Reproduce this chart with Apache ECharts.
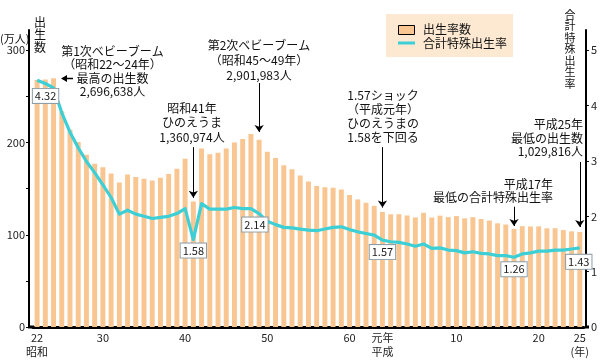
<!DOCTYPE html>
<html><head><meta charset="utf-8">
<script src="https://cdn.jsdelivr.net/npm/echarts@6/dist/echarts.min.js"></script>
<style>html,body{margin:0;padding:0;background:#fff}#c{width:600px;height:360px}</style>
</head><body><div id="c"></div>
<script>
// Years: Showa 22 (1947) ... Showa 63, Heisei 元年 (1989) ... Heisei 25 (2013)
const categories = [];
for (let y = 22; y <= 63; y++) categories.push(String(y));
categories.push('元年');
for (let y = 2; y <= 25; y++) categories.push(String(y));

// Births (万人)
const births = [
  267.9, 268.2, 269.7, 233.8, 213.8, 200.5, 186.8, 177.0, 173.1, 166.5,
  156.7, 165.3, 162.6, 160.6, 158.9, 161.9, 166.0, 171.7, 182.4, 136.1,
  193.6, 187.2, 189.0, 193.4, 200.1, 203.9, 209.2, 203.0, 190.1, 183.3,
  175.5, 170.9, 164.3, 157.7, 152.9, 151.5, 150.9, 149.0, 143.2, 138.3,
  134.7, 131.4, 124.7, 122.2, 122.3, 120.9, 118.8, 123.8, 118.7, 120.7,
  119.2, 120.3, 117.8, 119.1, 117.1, 115.4, 112.4, 111.1, 106.3, 109.3,
  109.0, 109.1, 107.0, 107.1, 105.1, 103.7, 103.0
];

// Total fertility rate
const tfr = [
  4.46, 4.40, 4.32, 3.87, 3.52, 3.24, 2.99, 2.79, 2.57, 2.34,
  2.04, 2.11, 2.04, 2.00, 1.96, 1.98, 2.00, 2.05, 2.14, 1.58,
  2.23, 2.13, 2.13, 2.13, 2.16, 2.14, 2.14, 2.05, 1.91, 1.85,
  1.80, 1.79, 1.77, 1.75, 1.74, 1.77, 1.80, 1.81, 1.76, 1.72,
  1.69, 1.66, 1.57, 1.54, 1.53, 1.50, 1.46, 1.50, 1.42, 1.43,
  1.39, 1.38, 1.34, 1.36, 1.33, 1.32, 1.29, 1.29, 1.26, 1.32,
  1.34, 1.37, 1.37, 1.39, 1.39, 1.41, 1.43
];

const leftLabels = [0, 100, 200, 300];
const leftTicks = [0, 50, 100, 150, 200, 250, 300];
const rightLabels = [0, 1, 2, 3, 4, 5];
const xTickLabels = {0: '22\n昭和', 8: '30', 18: '40', 28: '50', 38: '60', 42: '元年\n平成', 51: '10', 61: '20', 66: '25\n(年)'};

// value boxes on the TFR line: index and label offset
const tfrBoxes = [[2, [-8, 8]], [19, [0, 11]], [26, [4, 16]], [42, [0, 12]], [58, [0, 12]], [66, [-1, 14]]];
// arrows: category index, start value, tip value (left axis)
const arrows = [[19, 195, 140], [27, 264.5, 211.4], [42, 195, 129.5], [58, 130.4, 109.5], [66, 178.9, 108.4]];

const FF = '"Noto Sans CJK JP", "Noto Sans", sans-serif';
const LMAX = 322;

function txt(text, x, y, align, lh, size) {
  return {type: 'text', x: x, y: y, silent: true, style: {
    text: text, fill: '#111', fontSize: size || 12, fontFamily: FF,
    align: align || 'center', verticalAlign: 'top', lineHeight: lh || 13.5
  }};
}

const chart = echarts.init(document.getElementById('c'), null, {renderer: 'canvas'});
chart.setOption({
  animation: false,
  backgroundColor: '#fff',
  textStyle: {fontFamily: FF},
  grid: {left: 33, right: 14, top: 30, bottom: 33, containLabel: false},
  xAxis: {
    type: 'category', data: categories, boundaryGap: true,
    axisLine: {lineStyle: {color: '#000', width: 3}},
    axisTick: {show: false},
    axisLabel: {
      interval: function (i) { return xTickLabels[i] !== undefined; },
      formatter: function (v, i) { return xTickLabels[i] || ''; },
      fontSize: 11, lineHeight: 14, margin: 4, color: '#222', fontFamily: FF
    }
  },
  yAxis: [{
    type: 'value', min: 0, max: LMAX, position: 'left', offset: 4,
    axisLine: {show: true, lineStyle: {color: '#000', width: 2}},
    axisTick: {show: true, length: 3, customValues: leftTicks, lineStyle: {color: '#000'}},
    axisLabel: {customValues: leftLabels, fontSize: 11, margin: 4, color: '#222', fontFamily: FF},
    splitLine: {show: false}
  }, {
    type: 'value', min: 0, max: LMAX / 60, position: 'right', offset: 2,
    axisLine: {show: true, lineStyle: {color: '#000', width: 2}},
    axisTick: {show: true, length: 3, customValues: rightLabels, lineStyle: {color: '#000'}},
    axisLabel: {customValues: rightLabels, fontSize: 11, margin: 5, color: '#222', fontFamily: FF},
    splitLine: {show: false}
  }],
  series: [{
    name: '出生率数', type: 'bar', data: births, barWidth: '60%',
    itemStyle: {color: '#f9c692'},
    markLine: {
      silent: true, symbol: ['none', 'arrow'], symbolSize: 7,
      label: {show: false}, emphasis: {disabled: true},
      lineStyle: {color: '#000', width: 1, type: 'solid'},
      data: arrows.map(function (a) {
        return [{coord: [a[0], a[1]]}, {coord: [a[0], a[2]]}];
      })
    }
  }, {
    name: '合計特殊出生率', type: 'line', yAxisIndex: 1, data: tfr, z: 3,
    symbol: 'none', smooth: false,
    lineStyle: {color: '#3ccfd6', width: 3.2, join: 'round'},
    markPoint: {
      silent: true, symbol: 'circle', symbolSize: 1,
      itemStyle: {color: 'rgba(0,0,0,0)'},
      data: tfrBoxes.map(function (b) {
        return {
          coord: [b[0], tfr[b[0]]], value: tfr[b[0]].toFixed(2),
          label: {offset: b[1]}
        };
      }),
      label: {
        show: true, position: 'inside', formatter: function (p) { return p.value; },
        backgroundColor: '#fff', borderColor: '#8d9ea8', borderWidth: 1,
        padding: [2, 2, 1, 2], fontSize: 11, color: '#222', fontFamily: FF
      }
    }
  }],
  graphic: [
    // corner fillers of bottom axis
    {type: 'line', silent: true, shape: {x1: 28, y1: 327, x2: 34, y2: 327}, style: {stroke: '#000', lineWidth: 3}},
    {type: 'line', silent: true, shape: {x1: 585, y1: 327, x2: 589, y2: 327}, style: {stroke: '#000', lineWidth: 3}},
    // axis titles
    txt('出\n生\n数', 40, 16, 'center', 12.5, 12),
    txt('(万人)', 0, 33, 'left', 12, 11),
    txt('合\n計\n特\n殊\n出\n生\n率', 570, 9, 'center', 11.5, 11),
    // legend
    {type: 'rect', silent: true, shape: {x: 386, y: 14, width: 127, height: 43}, style: {fill: '#fde9d2'}},
    {type: 'rect', silent: true, shape: {x: 398.5, y: 25.5, width: 16, height: 9}, style: {fill: '#f9c692', stroke: '#000', lineWidth: 1}},
    {type: 'line', silent: true, shape: {x1: 398, y1: 43, x2: 415, y2: 43}, style: {stroke: '#3ccfd6', lineWidth: 3}},
    txt('出生率数', 423, 23, 'left', 13, 12),
    txt('合計特殊出生率', 423, 37, 'left', 13, 12),
    // annotations
    txt('第1次ベビーブーム\n（昭和22～24年）\n最高の出生数\n2,696,638人', 112.5, 44.5, 'center', 13.5, 12),
    {type: 'line', silent: true, shape: {x1: 73, y1: 78.5, x2: 66, y2: 78.5}, style: {stroke: '#000', lineWidth: 1.5}},
    {type: 'polygon', silent: true, shape: {points: [[61, 78.5], [67, 75], [67, 82]]}, style: {fill: '#000'}},
    txt('昭和41年\nひのえうま\n1,360,974人', 192, 101, 'center', 14.5, 12),
    txt('第2次ベビーブーム\n（昭和45～49年）\n2,901,983人', 259, 38, 'center', 15, 12),
    txt('1.57ショック\n（平成元年）\nひのえうまの\n1.58を下回る', 383, 88, 'center', 14, 12),
    txt('平成25年\n最低の出生数\n1,029,816人', 583, 118, 'right', 13.5, 12),
    txt('平成17年\n最低の合計特殊出生率', 553, 177.5, 'right', 13, 12)
  ]
});
</script>
</body></html>
